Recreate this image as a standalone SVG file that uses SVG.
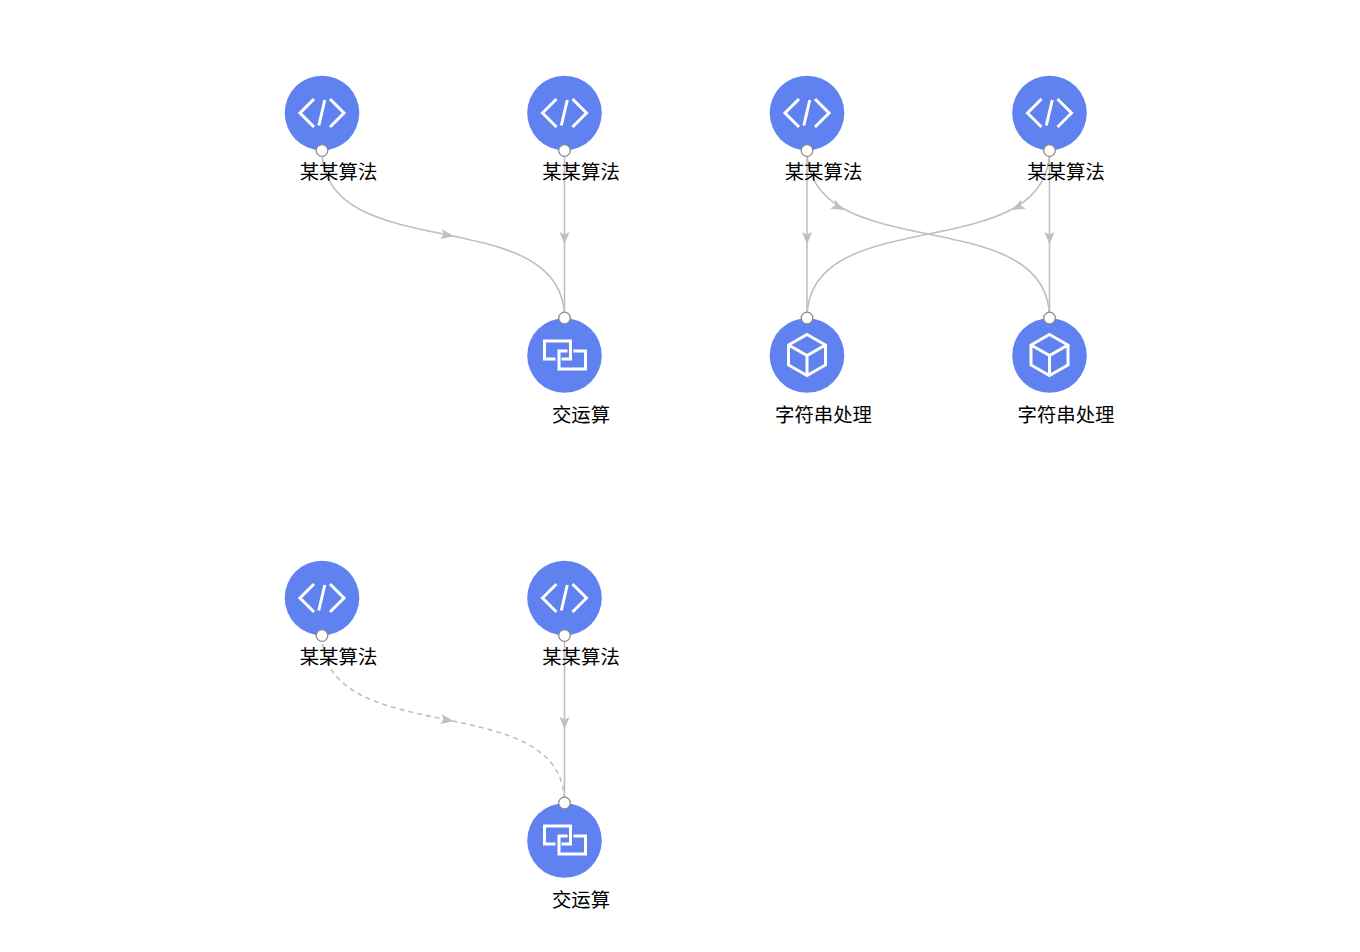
<svg xmlns="http://www.w3.org/2000/svg" width="1360" height="952" viewBox="0 0 1360 952">
<style>
.bg{fill:#fff}
.disc{fill:#5f82f0}
.port{fill:#fff;stroke:#8c8c8c;stroke-width:1.3}
.g{fill:none;stroke:#fff;stroke-width:3}
.e{fill:none;stroke:#bfbfbf;stroke-width:1.6}
.d{stroke-dasharray:5 4}
.a{fill:#bfbfbf}
text{font-family:"Noto Sans CJK SC","Liberation Sans",sans-serif;font-size:19.400px;fill:#000;text-anchor:middle}
</style>
<defs>
<polygon id="arrow" class="a" points="6.500,0 -6,-5 -3.500,0 -6,5"/>
<g id="code"><circle class="disc" r="37.300" cy="37.500"/><path class="g" d="M-8,23.500 L-22,37.500 L-8,51.500 M8,23.500 L22,37.500 L8,51.500 M2.800,24.500 L-3.200,50"/><circle class="port" cy="75" r="5.800"/></g>
<g id="inter"><circle class="disc" r="37.300" cy="37.500"/><path class="g" d="M-9,41 L-20,41 L-20,23 L6,23 L6,41 L-3,41 M3,33 L-5.500,33 L-5.500,51 L21,51 L21,33 L9,33"/><circle class="port" r="5.800"/></g>
<g id="cube"><circle class="disc" r="37.300" cy="37.500"/><path class="g" d="M0,16.500 L18.500,27 L18.500,47 L0,57.500 L-18.500,47 L-18.500,27 Z M-18.500,27 L0,37.500 L18.500,27 M0,37.500 L0,57.500"/><circle class="port" r="5.800"/></g>
</defs>
<rect class="bg" width="1360" height="952"/>
<g id="connectors">
<path class="e" d="M322,150 C322,268 564.500,200 564.500,318"/>
<path class="e" d="M564.500,150 L564.500,318"/>
<use href="#arrow" transform="translate(447,235) rotate(10)"/>
<use href="#arrow" transform="translate(564.500,238) rotate(90)"/>
<path class="e" d="M807,150 L807,318"/>
<path class="e" d="M807,150 C807,268 1049.500,200 1049.500,318"/>
<path class="e" d="M1049.500,150 L1049.500,318"/>
<path class="e" d="M1049.500,150 C1049.500,268 807,200 807,318"/>
<use href="#arrow" transform="translate(838,207) rotate(27)"/>
<use href="#arrow" transform="translate(1018,207) rotate(153)"/>
<use href="#arrow" transform="translate(807,238) rotate(90)"/>
<use href="#arrow" transform="translate(1049.500,238) rotate(90)"/>
<path class="e d" d="M322,635 C322,753 564.500,685 564.500,803"/>
<path class="e" d="M564.500,635 L564.500,803"/>
<use href="#arrow" transform="translate(447,720) rotate(10)"/>
<use href="#arrow" transform="translate(564.500,723) rotate(90)"/>
</g>
<g id="n1" transform="translate(322,75.500)"><use href="#code"/><text x="16.500" y="103.500">某某算法</text></g>
<g id="n2" transform="translate(564.500,75.500)"><use href="#code"/><text x="16.500" y="103.500">某某算法</text></g>
<g id="n3" transform="translate(564.500,318)"><use href="#inter"/><text x="16.500" y="103.500">交运算</text></g>
<g id="n4" transform="translate(807,75.500)"><use href="#code"/><text x="16.500" y="103.500">某某算法</text></g>
<g id="n5" transform="translate(1049.500,75.500)"><use href="#code"/><text x="16.500" y="103.500">某某算法</text></g>
<g id="n6" transform="translate(807,318)"><use href="#cube"/><text x="16.500" y="103.500">字符串处理</text></g>
<g id="n7" transform="translate(1049.500,318)"><use href="#cube"/><text x="16.500" y="103.500">字符串处理</text></g>
<g id="n8" transform="translate(322,560.500)"><use href="#code"/><text x="16.500" y="103.500">某某算法</text></g>
<g id="n9" transform="translate(564.500,560.500)"><use href="#code"/><text x="16.500" y="103.500">某某算法</text></g>
<g id="n10" transform="translate(564.500,803)"><use href="#inter"/><text x="16.500" y="103.500">交运算</text></g>
</svg>
